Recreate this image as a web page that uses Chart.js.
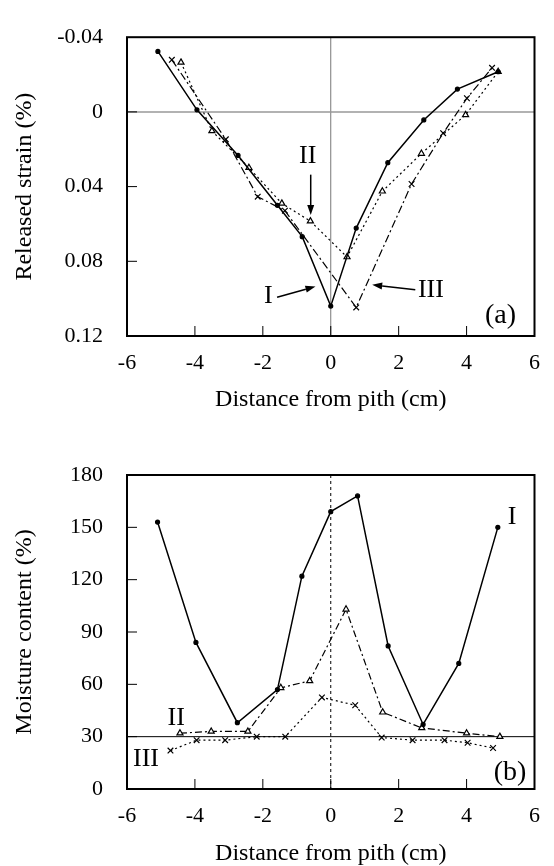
<!DOCTYPE html>
<html>
<head>
<meta charset="utf-8">
<script src="https://cdn.jsdelivr.net/npm/chart.js@4.4.0/dist/chart.umd.min.js"></script>
<style>
  html, body { margin: 0; padding: 0; background: #fff; }
  body { width: 554px; height: 866px; position: relative; overflow: hidden; }
  .box { position: absolute; left: 0; width: 554px; }
  #boxA { top: 0; height: 412px; }
  #boxB { top: 420px; height: 446px; }
</style>
</head>
<body>
<div class="box" id="boxA"><canvas id="strainChart" width="554" height="412"></canvas></div>
<div class="box" id="boxB"><canvas id="moistureChart" width="554" height="446"></canvas></div>
<script>
// ===== Data =====
const distTicks = [-6, -4, -2, 0, 2, 4, 6];

// (a) released strain
const strainTicks = [-0.04, 0, 0.04, 0.08, 0.12];
const strainTickLabels = ["-0.04", "0", "0.04", "0.08", "0.12"];
const strainX_I = [-5.09, -3.94, -2.73, -1.57, -0.84, 0, 0.75, 1.68, 2.74, 3.73, 4.93];
const strain_I = [-0.0324, -0.0011, 0.0233, 0.050, 0.0668, 0.104, 0.0622, 0.0272, 0.0043, -0.0122, -0.0215];
const strainX_II = [-4.41, -3.5, -2.41, -1.44, -0.6, 0.48, 1.52, 2.67, 3.97, 4.93];
const strain_II = [-0.0265, 0.0102, 0.0299, 0.049, 0.0585, 0.0777, 0.0425, 0.0223, 0.0016, -0.0215];
const strainX_III = [-4.68, -3.09, -2.15, -1.35, 0.75, 2.38, 3.31, 4.01, 4.75];
const strain_III = [-0.0279, 0.0147, 0.0454, 0.0529, 0.1047, 0.0386, 0.0114, -0.0073, -0.0236];

// (b) moisture content
const mcTicks = [0, 30, 60, 90, 120, 150, 180];
const mcX_I = [-5.1, -3.97, -2.75, -1.57, -0.85, 0, 0.79, 1.69, 2.72, 3.77, 4.92];
const mc_I = [153, 84, 38, 57, 122, 159, 168, 82, 37, 72, 150];
const mcX_II = [-4.44, -3.52, -2.44, -1.47, -0.62, 0.45, 1.53, 2.68, 4.0, 4.98];
const mc_II = [32, 33, 33, 58, 62, 103, 44, 35, 32, 30];
const mcX_III = [-4.72, -3.95, -3.11, -2.18, -1.34, -0.26, 0.72, 1.5, 2.41, 3.35, 4.03, 4.78];
const mc_III = [22, 28, 28, 30, 30, 52.5, 48, 29.5, 28, 28, 26.5, 23.5];

const FAMILY = "'Liberation Serif', 'Times New Roman', serif";
const pts = (xs, ys) => xs.map((x, i) => ({ x, y: ys[i] }));

// ===== Frame, inward ticks, reference lines and labels =====
const framePlugin = {
  id: "frame",
  beforeDatasetsDraw(chart, args, opts) {
    const { ctx, chartArea: a, scales: { x, y } } = chart;
    ctx.save();
    (opts.lines || []).forEach((l) => {
      ctx.beginPath();
      ctx.strokeStyle = l.color;
      ctx.lineWidth = l.width;
      ctx.setLineDash(l.dash || []);
      if (l.axis === "x") {
        const px = x.getPixelForValue(l.value);
        ctx.moveTo(px, a.top); ctx.lineTo(px, a.bottom);
      } else {
        const py = y.getPixelForValue(l.value);
        ctx.moveTo(a.left, py); ctx.lineTo(a.right, py);
      }
      ctx.stroke();
    });
    ctx.restore();
  },
  afterDatasetsDraw(chart, args, opts) {
    const { ctx, chartArea: a, scales: { x, y } } = chart;
    ctx.save();
    ctx.setLineDash([]);
    ctx.strokeStyle = "#000";
    // inward ticks
    ctx.lineWidth = 1;
    ctx.beginPath();
    x.ticks.forEach((t) => {
      const px = x.getPixelForValue(t.value);
      if (px <= a.left + 1 || px >= a.right - 1) return;
      ctx.moveTo(px, a.bottom); ctx.lineTo(px, a.bottom - 10);
    });
    y.ticks.forEach((t) => {
      const py = y.getPixelForValue(t.value);
      if (py <= a.top + 1 || py >= a.bottom - 1) return;
      ctx.moveTo(a.left, py); ctx.lineTo(a.left + 10, py);
    });
    ctx.stroke();
    // frame
    ctx.lineWidth = 2;
    ctx.strokeRect(a.left, a.top, a.right - a.left, a.bottom - a.top);

    // arrows
    ctx.fillStyle = "#000";
    ctx.lineWidth = 1.5;
    (opts.arrows || []).forEach((ar) => {
      const x0 = x.getPixelForValue(ar.from[0]), y0 = y.getPixelForValue(ar.from[1]);
      const x1 = x.getPixelForValue(ar.to[0]), y1 = y.getPixelForValue(ar.to[1]);
      const ang = Math.atan2(y1 - y0, x1 - x0);
      const hl = 10, hw = 3.5;
      ctx.beginPath();
      ctx.moveTo(x0, y0);
      ctx.lineTo(x1 - hl * Math.cos(ang), y1 - hl * Math.sin(ang));
      ctx.stroke();
      ctx.beginPath();
      ctx.moveTo(x1, y1);
      ctx.lineTo(x1 - hl * Math.cos(ang) - hw * Math.sin(ang), y1 - hl * Math.sin(ang) + hw * Math.cos(ang));
      ctx.lineTo(x1 - hl * Math.cos(ang) + hw * Math.sin(ang), y1 - hl * Math.sin(ang) - hw * Math.cos(ang));
      ctx.closePath();
      ctx.fill();
    });

    // text labels
    ctx.textAlign = "center";
    ctx.textBaseline = "middle";
    (opts.labels || []).forEach((lb) => {
      ctx.font = lb.size + "px " + FAMILY;
      ctx.fillText(lb.text, x.getPixelForValue(lb.at[0]), y.getPixelForValue(lb.at[1]));
    });
    ctx.restore();
  }
};

function xAxis(height) {
  return {
    type: "linear",
    min: -6,
    max: 6,
    afterBuildTicks: (s) => { s.ticks = distTicks.map((v) => ({ value: v })); },
    afterFit: (s) => { s.height = height; },
    grid: { display: false, drawTicks: false },
    border: { display: false },
    ticks: { padding: 14, color: "#000", font: { family: FAMILY, size: 22 }, callback: (v) => String(v) },
    title: { display: true, text: "Distance from pith (cm)", color: "#000", padding: 0,
             font: { family: FAMILY, size: 24, lineHeight: 1 } }
  };
}

function yAxis(tickVals, tickLabels, title, extra) {
  return Object.assign({
    type: "linear",
    afterBuildTicks: (s) => { s.ticks = tickVals.map((v) => ({ value: v })); },
    afterFit: (s) => { s.width = 127; },
    grid: { display: false, drawTicks: false },
    border: { display: false },
    ticks: { padding: 24, color: "#000", font: { family: FAMILY, size: 22 },
             callback: (v, i) => tickLabels[i] },
    title: { display: true, text: title, color: "#000", padding: { top: 13, bottom: 0 },
             font: { family: FAMILY, size: 24, lineHeight: 1 } }
  }, extra);
}

function series(data, dash, style, radius, fill, width) {
  return {
    data,
    showLine: true,
    borderColor: "#000",
    borderWidth: width,
    borderDash: dash,
    tension: 0,
    pointStyle: style,
    pointRadius: radius,
    pointBackgroundColor: fill,
    pointBorderColor: "#000",
    pointBorderWidth: 1.2
  };
}

// ===== (a) Released strain =====
new Chart(document.getElementById("strainChart"), {
  type: "scatter",
  data: {
    datasets: [
      series(pts(strainX_I, strain_I), [], "circle", 2, "#000", 1.5),
      series(pts(strainX_II, strain_II), [2, 3], "triangle", 3.5, "#fff", 1.2),
      series(pts(strainX_III, strain_III), [8, 3, 2, 3], "crossRot", 4, "#000", 1.2)
    ]
  },
  options: {
    responsive: false,
    animation: false,
    layout: { padding: { top: 19, right: 6, left: 0, bottom: 0 } },
    scales: {
      x: xAxis(76),
      y: yAxis(strainTicks, strainTickLabels, "Released strain (%)", { min: -0.04, max: 0.12, reverse: true })
    },
    plugins: {
      legend: { display: false },
      tooltip: { enabled: false },
      frame: {
        lines: [
          { axis: "x", value: 0, color: "#777", width: 1 },
          { axis: "y", value: 0, color: "#999", width: 1.5 }
        ],
        arrows: [
          { from: [-0.59, 0.0336], to: [-0.59, 0.0552] },
          { from: [-1.58, 0.0992], to: [-0.45, 0.0935] },
          { from: [2.49, 0.0952], to: [1.22, 0.0926] }
        ],
        labels: [
          { text: "II", at: [-0.68, 0.0235], size: 26 },
          { text: "I", at: [-1.84, 0.0985], size: 26 },
          { text: "III", at: [2.95, 0.0955], size: 26 },
          { text: "(a)", at: [5.0, 0.1093], size: 28 }
        ]
      }
    }
  },
  plugins: [framePlugin]
});

// ===== (b) Moisture content =====
new Chart(document.getElementById("moistureChart"), {
  type: "scatter",
  data: {
    datasets: [
      series(pts(mcX_I, mc_I), [], "circle", 2, "#000", 1.5),
      series(pts(mcX_II, mc_II), [7, 3, 2, 3], "triangle", 3.5, "#fff", 1.2),
      series(pts(mcX_III, mc_III), [2, 3], "crossRot", 4, "#000", 1.2)
    ]
  },
  options: {
    responsive: false,
    animation: false,
    layout: { padding: { top: 55, right: 6, left: 0, bottom: 0 } },
    scales: {
      x: xAxis(77),
      y: yAxis(mcTicks, mcTicks.map(String), "Moisture content (%)", { min: 0, max: 180 })
    },
    plugins: {
      legend: { display: false },
      tooltip: { enabled: false },
      frame: {
        lines: [
          { axis: "x", value: 0, color: "#000", width: 1, dash: [3, 3] },
          { axis: "y", value: 30, color: "#000", width: 1 }
        ],
        labels: [
          { text: "I", at: [5.34, 156], size: 26 },
          { text: "II", at: [-4.55, 40.7], size: 26 },
          { text: "III", at: [-5.44, 17.2], size: 26 },
          { text: "(b)", at: [5.28, 9.5], size: 28 }
        ]
      }
    }
  },
  plugins: [framePlugin]
});
</script>
</body>
</html>
